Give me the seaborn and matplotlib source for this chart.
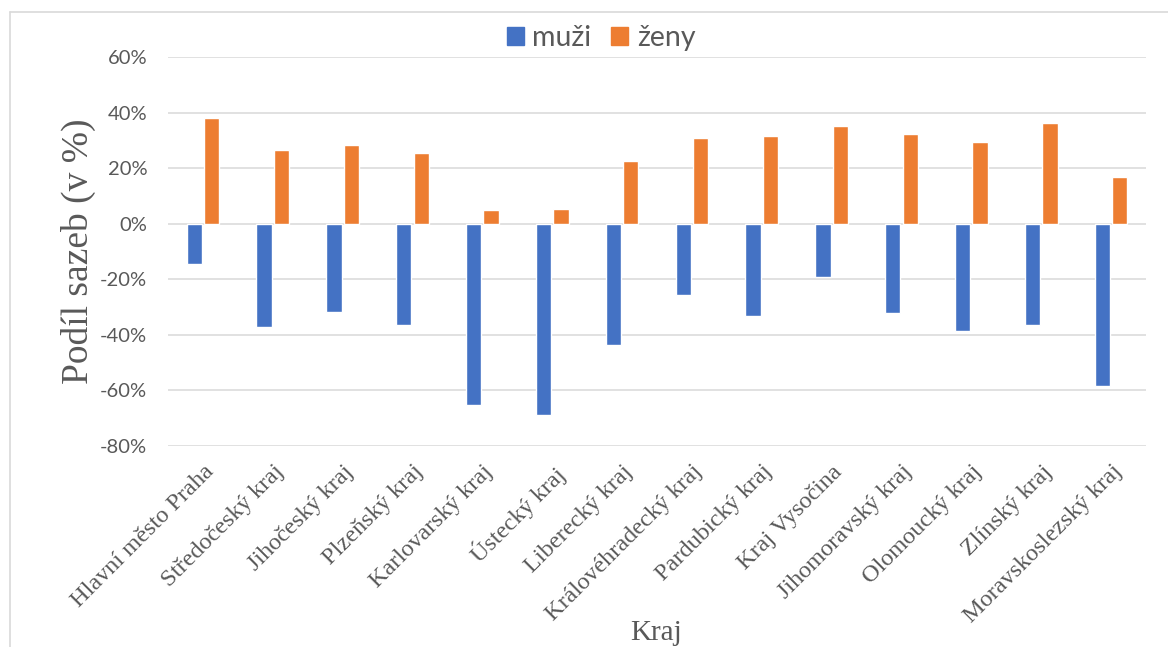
# IMPORTS #
import pandas as pd
import matplotlib
matplotlib.use('Agg')
import matplotlib.pyplot as plt
from matplotlib.lines import Line2D
from matplotlib.ticker import FuncFormatter
import seaborn as sns

# DATA #
kraje = ['Hlavní město Praha', 'Středočeský kraj', 'Jihočeský kraj', 'Plzeňský kraj',
         'Karlovarský kraj', 'Ústecký kraj', 'Liberecký kraj', 'Královéhradecký kraj',
         'Pardubický kraj', 'Kraj Vysočina', 'Jihomoravský kraj', 'Olomoucký kraj',
         'Zlínský kraj', 'Moravskoslezský kraj']
muzi = [-14.6, -37.3, -31.8, -36.6, -65.1, -68.7, -43.5, -25.8, -33.3, -19.2, -32.0, -38.5, -36.6, -58.5]
zeny = [38.1, 26.7, 28.5, 25.5, 5.0, 5.3, 22.5, 31.0, 31.5, 35.1, 32.4, 29.4, 36.1, 16.7]
skupiny = ['muži', 'ženy']
y_ticks = [-80, -60, -40, -20, 0, 20, 40, 60]

df = pd.DataFrame({
    'kraj': kraje * 2,
    'podil': muzi + zeny,
    'pohlavi': [skupiny[0]] * len(kraje) + [skupiny[1]] * len(kraje),
})

# STYLE #
sns.set_theme(style='white')
plt.rcParams['font.family'] = ['Lato', 'DejaVu Sans']
grey_text = '#595959'
palette = {'muži': '#4472C4', 'ženy': '#ED7D31'}

W, H = 1168, 647
fig = plt.figure(figsize=(W / 100, H / 100), dpi=100)
# plot area in pixels: x 168..1146, y 57..446
ax = fig.add_axes([168 / W, 1 - 446 / H, 978 / W, 389 / H])

sns.barplot(data=df, x='kraj', y='podil', hue='pohlavi', palette=palette,
            width=0.5, gap=0.12, ax=ax, legend=False, saturation=1)

ax.set_ylim(-80, 60)
ax.set_xlim(-0.5, len(kraje) - 0.5)
ax.set_yticks(y_ticks)
ax.yaxis.set_major_formatter(FuncFormatter(lambda v, p: '{:.0f}%'.format(v)))
ax.grid(axis='y', color='#D9D9D9', linewidth=1.1)
ax.set_axisbelow(True)
for s in ax.spines.values():
    s.set_visible(False)
ax.tick_params(axis='both', length=0)
ax.tick_params(axis='y', labelsize=14.5, labelcolor=grey_text, pad=15)

ax.set_xticks(range(len(kraje)))
ax.set_xticklabels(kraje, rotation=45, ha='right', rotation_mode='anchor',
                   family='Liberation Serif', fontsize=17.5, color=grey_text)
ax.tick_params(axis='x', pad=11)

ax.set_xlabel('Kraj', family='Liberation Serif', fontsize=21, color=grey_text)
ax.xaxis.set_label_coords(0.499, -0.447)
ax.set_ylabel('Podíl sazeb (v %)', family='Liberation Serif', fontsize=27, color=grey_text)
ax.yaxis.set_label_coords(-0.074, 0.5)

# Legend
handles = [plt.Rectangle((0, 0), 1, 1, color=palette[s]) for s in skupiny]
fig.legend(handles, skupiny, loc='center', bbox_to_anchor=(0.5146, 0.9405), ncol=2,
           frameon=False, fontsize=20.5, labelcolor=grey_text, handlelength=0.6,
           handleheight=0.6, handletextpad=0.3, columnspacing=0.7)

# outer border of the chart area
fig.add_artist(Line2D([10 / W, 10 / W], [0, 1 - 12 / H], color='#D9D9D9', lw=1.2))
fig.add_artist(Line2D([10 / W, 1], [1 - 12 / H, 1 - 12 / H], color='#D9D9D9', lw=1.2))

fig.savefig('out.png', dpi=100)
